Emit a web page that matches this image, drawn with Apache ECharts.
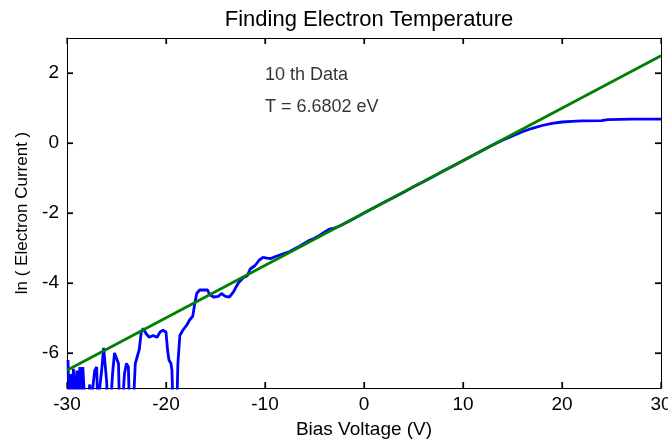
<!DOCTYPE html>
<html>
<head>
<meta charset="utf-8">
<script src="https://cdn.jsdelivr.net/npm/echarts@6/dist/echarts.min.js"></script>
<style>html,body{margin:0;padding:0;background:#fff}#c{width:668px;height:443px}</style>
</head>
<body>
<div id="c"></div>
<script>
// Bias voltage (V) of measured points
var biasVoltage = [-29.9,-29.8,-29.6,-29.5,-29.35,-29.2,-29.0,-28.9,-28.7,-28.5,-28.4,-28.2,-27.9,-27.7,-27.6,-27.4,-27.2,-27.0,-26.9,-26.7,-26.5,-26.3,-26.1,-26.0,-25.9,-25.6,-25.4,-25.2,-25.0,-24.8,-24.7,-24.4,-24.2,-24.0,-23.8,-23.7,-23.3,-23.1,-22.9,-22.7,-22.5,-22.3,-22.0,-21.7,-21.3,-20.9,-20.6,-20.3,-20.0,-19.85,-19.7,-19.5,-19.4,-19.3,-18.9,-18.8,-18.6,-18.3,-17.9,-17.6,-17.3,-17.1,-16.9,-16.6,-16.2,-15.8,-15.6,-15.2,-14.7,-14.4,-14.0,-13.6,-13.2,-12.7,-12.2,-11.8,-11.5,-11.0,-10.6,-10.2,-9.8,-9.4,-9.0,-8.5,-8.0,-7.5,-7.0,-6.5,-6.0,-5.5,-5.0,-4.5,-4.0,-3.5,-3.0,-2.5,-2.0,-1.0,0,1,2,3,4,5,6,7,8,9,10,11,12,13,14,15,16,17,18,19,20,21,22,24,24.6,27,30];
// ln(Electron Current) of measured points
var lnCurrent = [-6.2,-7.5,-6.6,-7.5,-6.45,-7.5,-6.5,-7.5,-6.4,-7.2,-6.4,-7.5,-7.5,-6.9,-7.5,-7.5,-6.5,-6.4,-7.5,-7.5,-6.5,-5.85,-5.9,-6.8,-7.5,-7.5,-6.6,-6.0,-5.97,-6.3,-7.5,-7.5,-6.6,-6.3,-6.4,-7.5,-7.5,-6.3,-6.1,-5.9,-5.4,-5.3,-5.45,-5.55,-5.5,-5.55,-5.4,-5.35,-5.4,-5.9,-6.2,-6.3,-6.5,-7.5,-7.5,-6.3,-5.5,-5.35,-5.2,-5.05,-4.95,-4.6,-4.3,-4.2,-4.2,-4.2,-4.33,-4.4,-4.38,-4.3,-4.38,-4.4,-4.26,-4.0,-3.85,-3.8,-3.6,-3.5,-3.35,-3.27,-3.29,-3.3,-3.25,-3.2,-3.15,-3.1,-3.02,-2.95,-2.86,-2.78,-2.72,-2.64,-2.55,-2.46,-2.43,-2.38,-2.31,-2.16,-2.0,-1.85,-1.70,-1.56,-1.41,-1.25,-1.11,-0.96,-0.80,-0.66,-0.51,-0.36,-0.21,-0.06,0.08,0.2,0.32,0.42,0.5,0.56,0.6,0.62,0.63,0.64,0.67,0.68,0.68];
// Linear fit line (endpoints)
var fitVoltage = [-30, 30];
var fitLn = [-6.49, 2.49];
// Axis range / tick values
var xRange = [-30, 30], xStep = 10;
var yRange = [-7, 3];
var xTicks = [-30,-20,-10,0,10,20,30];
var yTicks = [-6,-4,-2,0,2];
// Annotations
var noteTexts = ['10 th Data', 'T = 6.6802 eV'];
var noteX = [-10.0, -10.0];
var noteY = [1.94, 1.03];

var measured = biasVoltage.map(function(v,i){return [v, lnCurrent[i]];});
var fit = fitVoltage.map(function(v,i){return [v, fitLn[i]];});
var notes = noteTexts.map(function(t,i){return {value:[noteX[i], noteY[i]], name:t};});
// inward tick marks on all four frame sides (dir: 0 up, 1 down, 2 right, 3 left)
var tickMarks = [];
xTicks.forEach(function(v){ tickMarks.push([v, yRange[0], 0]); tickMarks.push([v, yRange[1], 1]); });
yTicks.forEach(function(v){ tickMarks.push([xRange[0], v, 2]); tickMarks.push([xRange[1], v, 3]); });

var font = 'Liberation Sans, Arial, sans-serif';
var chart = echarts.init(document.getElementById('c'), null, {renderer:'canvas'});
function axisLine(){ return {show:true, onZero:false, lineStyle:{color:'#000', width:1}}; }
function ticks(){ return {show:true, inside:true, length:6, lineStyle:{color:'#000', width:1.2}}; }
var hiddenLabel = {show:true, color:'rgba(0,0,0,0)', fontSize:1, showMinLabel:false, showMaxLabel:false};
var TL = 6;
chart.setOption({
  animation:false,
  backgroundColor:'#fff',
  title:{text:'Finding Electron Temperature', left:364, top:4, textAlign:'center',
    textStyle:{fontFamily:font, fontSize:22, fontWeight:'normal', color:'#000'}},
  grid:{left:67, right:7, top:38, bottom:55, containLabel:false, outerBoundsMode:'none', show:false},
  xAxis:[{
    type:'value', min:xRange[0], max:xRange[1], interval:xStep, position:'bottom',
    name:'Bias Voltage (V)', nameLocation:'middle', nameGap:32,
    nameTextStyle:{fontFamily:font, fontSize:19, color:'#000'},
    axisLine:axisLine(), axisTick:ticks(),
    axisLabel:{fontFamily:font, fontSize:19, color:'#000', margin:7, showMinLabel:true, showMaxLabel:true, hideOverlap:false},
    splitLine:{show:false}
  },{
    type:'value', min:xRange[0], max:xRange[1], interval:xStep, position:'top',
    axisLine:axisLine(), axisTick:ticks(), axisLabel:hiddenLabel, splitLine:{show:false}
  }],
  yAxis:[{
    type:'value', min:yRange[0], max:yRange[1], position:'left',
    name:'ln ( Electron Current )', nameLocation:'middle', nameGap:36, nameRotate:90,
    nameTextStyle:{fontFamily:font, fontSize:17, color:'#000'},
    axisLine:axisLine(), axisTick:ticks(),
    axisLabel:{fontFamily:font, fontSize:19, color:'#000', margin:8, showMinLabel:false, showMaxLabel:false},
    splitLine:{show:false}
  },{
    type:'value', min:yRange[0], max:yRange[1], position:'right',
    axisLine:axisLine(), axisTick:ticks(), axisLabel:hiddenLabel, splitLine:{show:false}
  }],
  series:[{
    type:'line', data:measured, showSymbol:false, clip:true,
    lineStyle:{color:'#0000ff', width:2.8}, itemStyle:{color:'#0000ff'}, z:2
  },{
    type:'line', data:fit, showSymbol:false, clip:true,
    lineStyle:{color:'#008000', width:2.8}, itemStyle:{color:'#008000'}, z:3
  },{
    type:'scatter', data:notes, symbolSize:0, silent:true,
    label:{show:true, position:'right', distance:0, formatter:'{b}',
      fontFamily:font, fontSize:18, color:'#000'}
  },{
    type:'custom', data:tickMarks, silent:true, z:4,
    dimensions:['x','y','dir'], encode:{x:0, y:1},
    renderItem:function(params, api){
      try {
        var p = api.coord([api.value(0), api.value(1)]);
        var d = api.value(2);
        var x2 = p[0], y2 = p[1];
        if (d === 0) y2 = p[1] - TL;
        else if (d === 1) y2 = p[1] + TL;
        else if (d === 2) x2 = p[0] + TL;
        else x2 = p[0] - TL;
        return {type:'line', shape:{x1:p[0], y1:p[1], x2:x2, y2:y2},
          style:{stroke:'#000', lineWidth:1.2}};
      } catch (e) { return null; }
    }
  }]
});
</script>
</body>
</html>
